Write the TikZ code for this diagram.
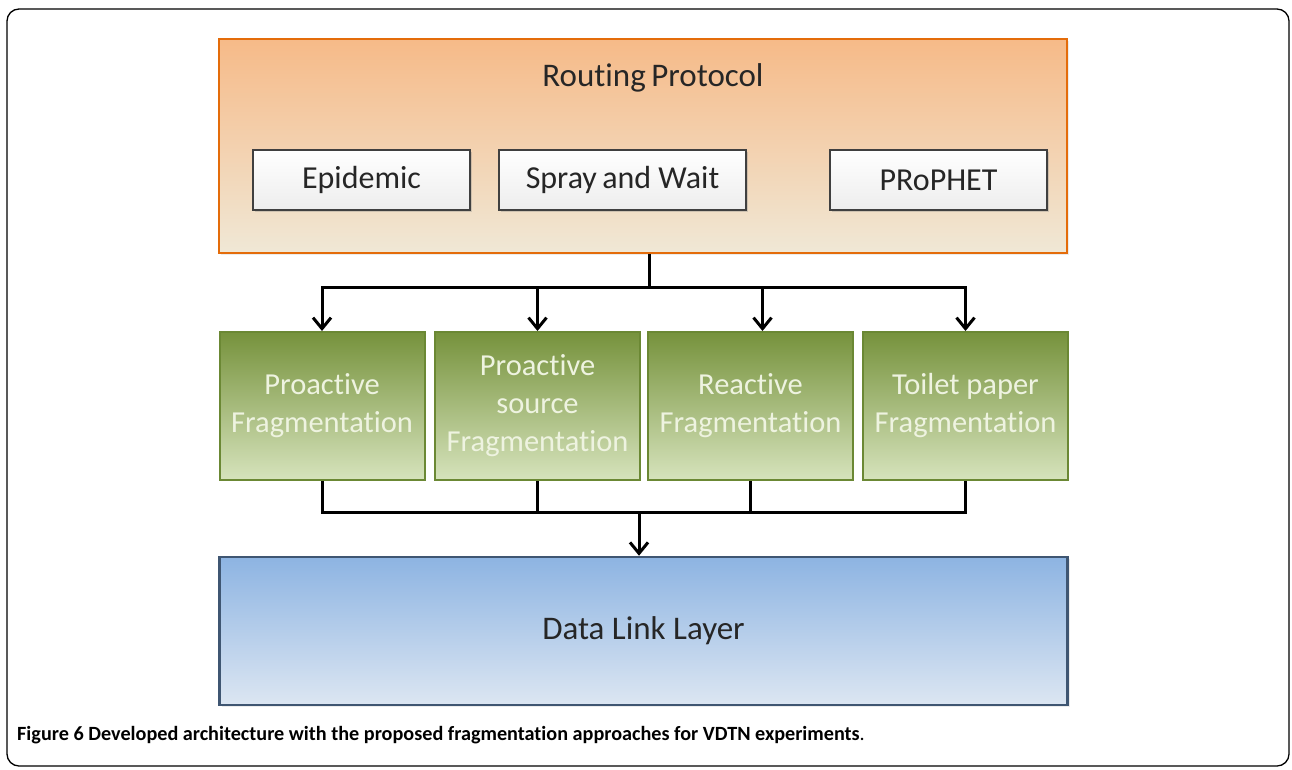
\documentclass[tikz,border=0pt]{standalone}
\usepackage{fontspec}
\setmainfont{Carlito}[Ligatures=NoCommon]
\usetikzlibrary{arrows.meta,shadows}

\definecolor{rtborder}{RGB}{228,108,10}
\definecolor{rttop}{RGB}{246,186,136}
\definecolor{rtbottom}{RGB}{240,232,214}
\definecolor{frtop}{RGB}{118,146,60}
\definecolor{frbottom}{RGB}{214,227,188}
\definecolor{frborder}{RGB}{107,136,52}
\definecolor{frtext}{RGB}{238,243,224}
\definecolor{dltop}{RGB}{141,180,226}
\definecolor{dlbottom}{RGB}{220,230,242}
\definecolor{dlborder}{RGB}{63,86,114}
\definecolor{txtgray}{RGB}{38,38,38}

\tikzset{
    rtbox/.style={draw=rtborder, line width=2pt, top color=rttop, bottom color=rtbottom,
        drop shadow={opacity=0.15}},
    protobox/.style={draw=black!75, line width=2.5pt, top color=white, bottom color=black!7,
        font=\fontsize{32}{36}\selectfont, text=txtgray,
        drop shadow={opacity=0.3, shadow xshift=2pt, shadow yshift=-2pt}},
    fragbox/.style={draw=frborder, line width=2pt, top color=frtop, bottom color=frbottom,
        minimum width=205, minimum height=148, align=center, text=frtext,
        font=\fontsize{30.5}{38}\selectfont},
    linkbox/.style={draw=dlborder, line width=2.5pt, top color=dltop, bottom color=dlbottom,
        font=\fontsize{33}{36}\selectfont, text=txtgray,
        drop shadow={opacity=0.15}},
    conn/.style={line width=3pt, black},
    arr/.style={conn, -{Straight Barb[length=11pt, width=18pt, line width=3pt]}}
}

\begin{document}
\begin{tikzpicture}[x=1pt, y=-1pt]
        % page and frame
        \fill [white] (0,0) rectangle (1292,769);
        \useasboundingbox (0,0) rectangle (1292,769);
        \draw [line width=1.3pt, rounded corners=12pt] (7,9) rectangle (1289,766);

        % routing layer
        \node [rtbox, minimum width=848, minimum height=214] (routing) at (643,146) {};
        \node [font=\fontsize{33}{36}\selectfont, text=txtgray] (rptitle) at (653,78) {Routing\,Protocol};
        \node [protobox, minimum width=217, minimum height=60] (epidemic) at (361.5,180) {Epidemic};
        \node [protobox, minimum width=247, minimum height=60] (spray) at (622.5,180) {Spray\,and Wait};
        \node [protobox, minimum width=217, minimum height=60] (prophet) at (938.5,180) {PRoPHET};

        % fragmentation approaches
        \node [fragbox] (proactive) at (322,406) {Proactive\\Fragmentation};
        \node [fragbox] (source) at (537.5,406) {Proactive\\source\\Fragmentation};
        \node [fragbox] (reactive) at (750.5,406) {Reactive\\Fragmentation};
        \node [fragbox] (toilet) at (965.5,406) {Toilet paper\\Fragmentation};

        % data link layer
        \node [linkbox, minimum width=848, minimum height=148] (datalink) at (643.5,631) {Data Link Layer};

        % connectors
        \coordinate (split) at (649,287);
        \coordinate (merge) at (639,512);
        \draw [conn] (routing.south -| split) -- (split);
        \draw [arr] (split) -| (proactive.north);
        \draw [arr] (split) -| (source.north);
        \draw [arr] (split) -| ([xshift=12pt]reactive.north);
        \draw [arr] (split) -| (toilet.north);
        \draw [conn] (proactive.south) |- (merge);
        \draw [conn] (source.south) |- (merge);
        \draw [conn] (reactive.south) |- (merge);
        \draw [conn] (toilet.south) |- (merge);
        \draw [arr] (merge) -- (datalink.north -| merge);

        % caption
        \node [anchor=base west, inner sep=0pt, font=\fontsize{20.2}{22}\selectfont] (caption) at (17,740)
            {\textbf{Figure 6 Developed architecture with the proposed fragmentation approaches for VDTN experiments}.};
\end{tikzpicture}
\end{document}
